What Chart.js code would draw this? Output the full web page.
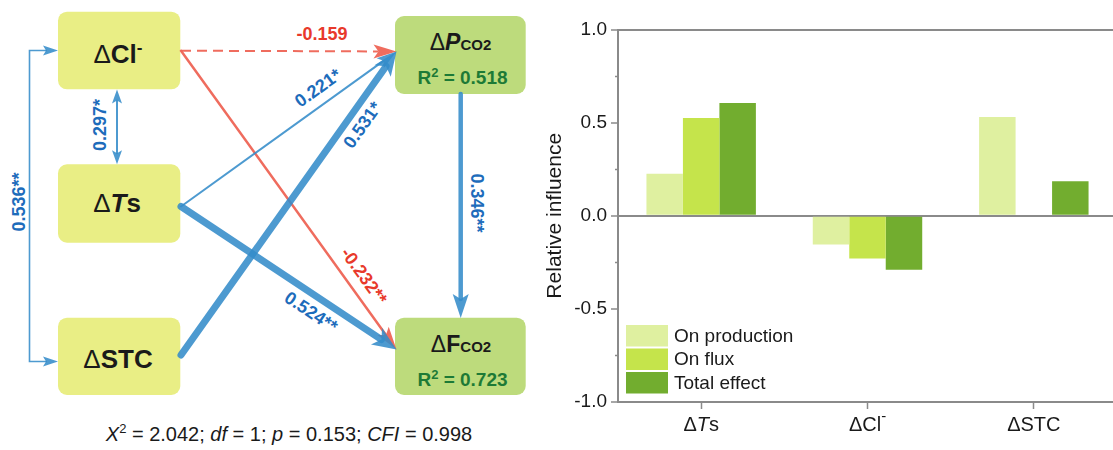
<!DOCTYPE html>
<html>
<head>
<meta charset="utf-8">
<script src="https://cdn.jsdelivr.net/npm/chart.js@4.4.1/dist/chart.umd.min.js"></script>
<style>
  html, body { margin: 0; padding: 0; width: 1113px; height: 450px; overflow: hidden; background: #fff; }
  #diagram { position: absolute; left: 0; top: 0; }
  #chartBox { position: absolute; left: 540px; top: 0; width: 577px; height: 450px; }
</style>
</head>
<body>
<svg id="diagram" width="540" height="450" xmlns="http://www.w3.org/2000/svg"></svg>
<div id="chartBox"><canvas id="chart"></canvas></div>
<script>
// ---- bar chart data ----
const categories   = ['ΔTs', 'ΔCl⁻', 'ΔSTC'];
const seriesNames  = ['On production', 'On flux', 'Total effect'];
const onProduction = [0.225, -0.155, 0.53];
const onFlux       = [0.525, -0.23, 0];
const totalEffect  = [0.605, -0.29, 0.185];
const yMajorTicks  = [-1.0, -0.5, 0.0, 0.5, 1.0];
const yMinorTicks  = [-0.75, -0.25, 0.25, 0.75];

// ---- path model data ----
const pathCoef = [-0.159, -0.232, 0.221, 0.531, 0.524, 0.346, 0.297, 0.536];
const pathSig  = ['', '**', '*', '*', '**', '**', '*', '**'];
const rSquared = [0.518, 0.723];
const fitStats = { chi2: 2.042, df: 1, p: 0.153, cfi: 0.998 };

const FONT = "'Liberation Sans', Arial, Helvetica, sans-serif";
const BLUE_LINE = 'rgba(52,140,202,0.88)';
const BLUE_TEXT = '#1d6cbb';
const RED_LINE = 'rgba(238,100,85,0.95)';
const RED_TEXT = '#e8392b';
const YELLOW = '#e9ee85';
const GREEN = '#bddb7c';

// ================= path diagram (SVG) =================
const NS = 'http://www.w3.org/2000/svg';
const svg = document.getElementById('diagram');
function el(tag, attrs, parent) {
  const e = document.createElementNS(NS, tag);
  for (const k in attrs) e.setAttribute(k, attrs[k]);
  (parent || svg).appendChild(e);
  return e;
}
function span(parent, txt, attrs) {
  const t = el('tspan', attrs || {}, parent);
  t.textContent = txt;
  return t;
}

const nodes = {
  Cl:  { x: 58,  y: 11.7,  w: 122.3, h: 77.6, fill: YELLOW },
  Ts:  { x: 58,  y: 164.3, w: 122.3, h: 78.4, fill: YELLOW },
  STC: { x: 58,  y: 317.7, w: 122.3, h: 77.3, fill: YELLOW },
  P:   { x: 395, y: 16,    w: 130.7, h: 78,   fill: GREEN },
  F:   { x: 395, y: 317.7, w: 130.7, h: 77.3, fill: GREEN }
};
for (const k in nodes) {
  const n = nodes[k];
  el('rect', { x: n.x, y: n.y, width: n.w, height: n.h, rx: 9, ry: 9, fill: n.fill });
}

// node captions
function caption(x, y, parts) {
  const t = el('text', { x: x, y: y, 'text-anchor': 'middle', 'font-family': FONT, fill: '#1a1a1a' });
  parts.forEach(p => span(t, p[0], p[1]));
  return t;
}
caption(118, 63, [['Δ', { 'font-size': 26 }], ['Cl', { 'font-size': 26, 'font-weight': 'bold' }],
                  ['-', { 'font-size': 17, 'font-weight': 'bold', dy: -10 }]]);
caption(117, 212, [['Δ', { 'font-size': 26 }], ['T', { 'font-size': 26, 'font-weight': 'bold', 'font-style': 'italic' }],
                   ['s', { 'font-size': 26, 'font-weight': 'bold' }]]);
caption(118, 368, [['Δ', { 'font-size': 26 }], ['STC', { 'font-size': 26, 'font-weight': 'bold' }]]);
caption(460.5, 50, [['Δ', { 'font-size': 23 }], ['P', { 'font-size': 23, 'font-weight': 'bold', 'font-style': 'italic' }],
                    ['CO2', { 'font-size': 15, 'font-weight': 'bold' }]]);
caption(461, 351.5, [['Δ', { 'font-size': 23 }], ['F', { 'font-size': 23, 'font-weight': 'bold' }],
                     ['CO2', { 'font-size': 15, 'font-weight': 'bold' }]]);
[[84.3, rSquared[0]], [385.7, rSquared[1]]].forEach(([yy, v]) => {
  const t = el('text', { x: 462.5, y: yy, 'text-anchor': 'middle', 'font-family': FONT,
                         'font-size': 19, 'font-weight': 'bold', fill: '#1d7a36' });
  span(t, 'R');
  span(t, '2', { 'font-size': 13, dy: -7 });
  span(t, ' = ' + v.toFixed(3), { dy: 7 });
});

// arrowhead polygon with a notched back
function head(tx, ty, ux, uy, len, hw, notch, color) {
  const px = -uy, py = ux;
  const bx = tx - ux * len, by = ty - uy * len;
  const nx = tx - ux * (len - notch), ny = ty - uy * (len - notch);
  el('polygon', {
    points: `${tx},${ty} ${bx + px * hw},${by + py * hw} ${nx},${ny} ${bx - px * hw},${by - py * hw}`,
    fill: color
  });
  return [nx, ny];
}
function arrow(x1, y1, x2, y2, o) {
  const dx = x2 - x1, dy = y2 - y1, L = Math.hypot(dx, dy), ux = dx / L, uy = dy / L;
  let sx = x1, sy = y1;
  const end = [x2 - ux * (o.hl - o.notch), y2 - uy * (o.hl - o.notch)];
  if (o.both) { sx = x1 + ux * (o.hl - o.notch); sy = y1 + uy * (o.hl - o.notch); }
  const ln = el('line', { x1: sx, y1: sy, x2: end[0], y2: end[1], stroke: o.color,
                          'stroke-width': o.w, 'stroke-linecap': o.dash ? 'butt' : 'round' });
  if (o.dash) ln.setAttribute('stroke-dasharray', o.dash);
  head(x2, y2, ux, uy, o.hl, o.hw, o.notch, o.color);
  if (o.both) head(x1, y1, -ux, -uy, o.hl, o.hw, o.notch, o.color);
}
function pathLabel(i, x, y, rot, color) {
  const txt = pathCoef[i].toFixed(3) + pathSig[i];
  const t = el('text', { transform: `translate(${x},${y}) rotate(${rot})`, 'text-anchor': 'middle',
                         'dominant-baseline': 'central', 'font-family': FONT, 'font-size': 18,
                         'font-weight': 'bold', fill: color });
  t.textContent = txt;
}

// ΔCl- -> ΔPCO2 (not significant)
arrow(181, 50.7, 396.5, 51.5, { w: 2, color: RED_LINE, hl: 23, hw: 7, notch: 5, dash: '10 6' });
// ΔCl- -> ΔFCO2
arrow(181, 50.7, 396.5, 349.5, { w: 2.5, color: RED_LINE, hl: 23, hw: 7, notch: 5 });
// ΔTs -> ΔPCO2
arrow(181, 206.5, 396.5, 51.5, { w: 2, color: BLUE_LINE, hl: 20, hw: 6, notch: 4 });
// ΔSTC -> ΔPCO2
arrow(181, 355, 396.5, 51.5, { w: 7, color: BLUE_LINE, hl: 24, hw: 10, notch: 6 });
// ΔTs -> ΔFCO2
arrow(181, 206.5, 396.5, 349.5, { w: 7, color: BLUE_LINE, hl: 24, hw: 10, notch: 6 });
// ΔPCO2 -> ΔFCO2
arrow(460.7, 94, 460.7, 318, { w: 4.5, color: BLUE_LINE, hl: 24, hw: 8, notch: 5 });
// ΔCl- <-> ΔTs
arrow(117, 89.5, 117, 164.3, { w: 2, color: BLUE_LINE, hl: 14, hw: 5, notch: 3, both: true });
// ΔCl- <-> ΔSTC bracket
el('polyline', { points: '47,50.5 29.5,50.5 29.5,361.5 47,361.5', fill: 'none', stroke: BLUE_LINE, 'stroke-width': 1.6 });
head(58, 50.5, 1, 0, 15, 5, 3, BLUE_LINE);
head(58, 361.5, 1, 0, 15, 5, 3, BLUE_LINE);

pathLabel(0, 322, 34, 0, RED_TEXT);
pathLabel(1, 364, 276, 54.2, RED_TEXT);
pathLabel(2, 318, 88, -35.7, BLUE_TEXT);
pathLabel(3, 362.5, 125, -54.6, BLUE_TEXT);
pathLabel(4, 311, 312, 33.6, BLUE_TEXT);
pathLabel(5, 476.5, 203, 90, BLUE_TEXT);
pathLabel(6, 100, 125, -90, BLUE_TEXT);
pathLabel(7, 19, 202, -90, BLUE_TEXT);

// model fit statistics
(function () {
  const t = el('text', { x: 289, y: 441, 'text-anchor': 'middle', 'font-family': FONT, 'font-size': 20, fill: '#1a1a1a' });
  const it = { 'font-style': 'italic' };
  span(t, 'X', it); span(t, '2', { 'font-size': 13, dy: -8 });
  span(t, ' = ' + fitStats.chi2.toFixed(3) + '; ', { dy: 8 });
  span(t, 'df', it); span(t, ' = ' + fitStats.df + '; ');
  span(t, 'p', it); span(t, ' = ' + fitStats.p.toFixed(3) + '; ');
  span(t, 'CFI', it); span(t, ' = ' + fitStats.cfi.toFixed(3));
})();

// ================= bar chart (Chart.js) =================
const AXIS = '#8a8a8a';
const barColors = ['#dff0a0', '#c5e44b', '#72ad2f'];

// category labels with italic symbols and raised ion charge
function labelParts(s) {
  const parts = [];
  for (const ch of s) {
    if (ch === 'T' && s === 'ΔTs') parts.push({ t: ch, style: 'italic ' });
    else if (ch === '⁻') parts.push({ t: '-', sup: true });
    else parts.push({ t: ch, style: '' });
  }
  return parts;
}
const richXLabels = {
  id: 'richXLabels',
  afterDraw(chart) {
    const { ctx, chartArea } = chart;
    const xs = chart.scales.x;
    ctx.save();
    ctx.fillStyle = '#1a1a1a';
    ctx.textBaseline = 'alphabetic';
    ctx.textAlign = 'left';
    categories.forEach((lab, i) => {
      const parts = labelParts(lab);
      const fonts = parts.map(p => p.sup ? `15px ${FONT}` : `${p.style}20px ${FONT}`);
      let w = 0;
      parts.forEach((p, j) => { ctx.font = fonts[j]; w += ctx.measureText(p.t).width; });
      let x = xs.getPixelForTick(i) - w / 2;
      const y = chartArea.bottom + 29;
      parts.forEach((p, j) => {
        ctx.font = fonts[j];
        ctx.fillText(p.t, x, p.sup ? y - 10 : y);
        x += ctx.measureText(p.t).width;
      });
    });
    ctx.restore();
  }
};
const minorTicks = {
  id: 'minorTicks',
  afterDraw(chart) {
    const { ctx, chartArea } = chart;
    const ys = chart.scales.y;
    ctx.save();
    ctx.strokeStyle = AXIS;
    ctx.lineWidth = 1.5;
    yMinorTicks.forEach(v => {
      const y = Math.round(ys.getPixelForValue(v)) + 0.5;
      ctx.beginPath();
      ctx.moveTo(chartArea.left - 3, y);
      ctx.lineTo(chartArea.left, y);
      ctx.stroke();
    });
    ctx.restore();
  }
};
const boxLegend = {
  id: 'boxLegend',
  afterDraw(chart) {
    const { ctx, chartArea } = chart;
    ctx.save();
    ctx.font = `19px ${FONT}`;
    ctx.textBaseline = 'middle';
    ctx.fillStyle = '#1a1a1a';
    chart.data.datasets.forEach((ds, i) => {
      const top = chartArea.bottom - 77 + i * 23.5;
      ctx.fillStyle = ds.backgroundColor;
      ctx.fillRect(chartArea.left + 8, top, 42, 21.5);
      ctx.fillStyle = '#1a1a1a';
      ctx.fillText(ds.label, chartArea.left + 56, top + 11.5);
    });
    ctx.restore();
  }
};

Chart.defaults.font.family = FONT;
new Chart(document.getElementById('chart'), {
  type: 'bar',
  data: {
    labels: categories,
    datasets: [
      { label: seriesNames[0], data: onProduction, backgroundColor: barColors[0] },
      { label: seriesNames[1], data: onFlux,       backgroundColor: barColors[1] },
      { label: seriesNames[2], data: totalEffect,  backgroundColor: barColors[2] }
    ]
  },
  options: {
    responsive: true,
    maintainAspectRatio: false,
    animation: false,
    layout: { padding: { top: 29.5, right: 0, bottom: 0, left: 0 } },
    datasets: { bar: { barPercentage: 1, categoryPercentage: 0.658, borderWidth: 0 } },
    plugins: { legend: { display: false }, tooltip: { enabled: false } },
    scales: {
      x: {
        type: 'category',
        afterFit: s => { s.height = 48; },
        grid: { display: true, offset: false, drawOnChartArea: false, drawTicks: true,
                tickLength: 7, tickColor: AXIS, tickWidth: 1.5 },
        border: { display: true, color: AXIS, width: 2 },
        ticks: { display: false }
      },
      xTop: {
        type: 'linear',
        position: 'top',
        afterFit: s => { s.height = 0; },
        grid: { display: false },
        border: { display: true, color: AXIS, width: 2 },
        ticks: { display: false }
      },
      y: {
        type: 'linear',
        min: -1, max: 1,
        afterFit: s => { s.width = 78; },
        afterBuildTicks: s => { s.ticks = yMajorTicks.map(v => ({ value: v })); },
        grid: {
          color: c => (c.tick && c.tick.value === 0 ? AXIS : 'rgba(0,0,0,0)'),
          lineWidth: 2,
          drawTicks: true, tickLength: 7, tickColor: AXIS, tickWidth: 1.5
        },
        border: { display: true, color: AXIS, width: 2 },
        ticks: { color: '#1a1a1a', font: { size: 19 }, padding: 4,
                 callback: v => Number(v).toFixed(1) },
        title: { display: true, text: 'Relative influence', color: '#1a1a1a',
                 font: { size: 21 }, padding: { top: 3, bottom: 0 } }
      }
    }
  },
  plugins: [richXLabels, minorTicks, boxLegend]
});
</script>
</body>
</html>
